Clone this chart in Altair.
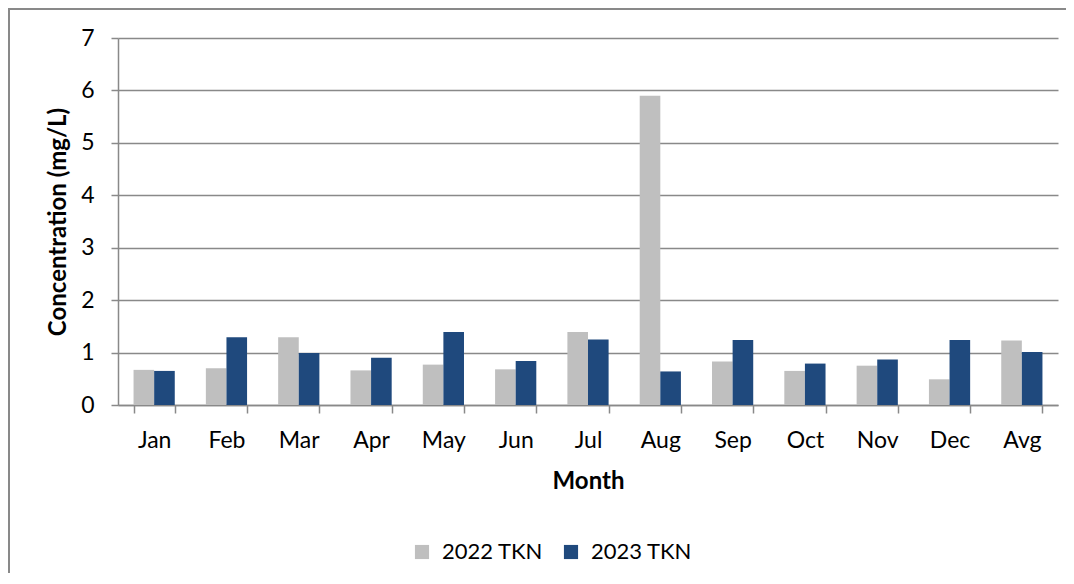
import altair as alt
import pandas as pd

months = ["Jan", "Feb", "Mar", "Apr", "May", "Jun", "Jul", "Aug", "Sep", "Oct", "Nov", "Dec", "Avg"]
series = ["2022 TKN", "2023 TKN"]
tkn_2022 = [0.67, 0.70, 1.29, 0.66, 0.77, 0.68, 1.39, 5.90, 0.83, 0.65, 0.75, 0.49, 1.23]
tkn_2023 = [0.65, 1.29, 0.99, 0.90, 1.39, 0.84, 1.25, 0.64, 1.24, 0.79, 0.87, 1.24, 1.01]
y_ticks = [0, 1, 2, 3, 4, 5, 6, 7]
colors = ["#BFBFBF", "#1F497D"]

rows = []
for m, a, b in zip(months, tkn_2022, tkn_2023):
    rows.append({"Month": m, "Series": series[0], "Value": a})
    rows.append({"Month": m, "Series": series[1], "Value": b})
df = pd.DataFrame(rows)

FONT = "Lato"
GRAY = "#898989"

bars = alt.Chart(df).mark_bar().encode(
    x=alt.X(
        "Month:N",
        sort=months,
        scale=alt.Scale(paddingInner=0.43, paddingOuter=0.215),
        axis=alt.Axis(
            title="Month",
            labelAngle=0,
            tickBand="extent",
            tickSize=8,
            tickColor=GRAY,
            tickWidth=1.5,
            domainColor=GRAY,
            domainWidth=1.5,
            labelPadding=16,
            labelFontSize=23,
            labelFont=FONT,
            labelColor="#000000",
            titleFont=FONT,
            titleFontSize=24,
            titleFontWeight="bold",
            titleColor="#000000",
            titleBaseline="middle",
            titleY=76,
            grid=False,
        ),
    ),
    xOffset=alt.XOffset("Series:N", sort=series, scale=alt.Scale(paddingInner=0, paddingOuter=0)),
    y=alt.Y(
        "Value:Q",
        scale=alt.Scale(domain=[0, 7], nice=False),
        axis=alt.Axis(
            title="Concentration (mg/L)",
            values=y_ticks,
            format="d",
            tickSize=7,
            tickColor=GRAY,
            tickWidth=1.5,
            domainColor=GRAY,
            domainWidth=1.5,
            gridColor=GRAY,
            gridWidth=1.5,
            labelPadding=17,
            labelFontSize=23,
            labelFont=FONT,
            labelColor="#000000",
            titleFont=FONT,
            titleFontSize=24,
            titleFontWeight="bold",
            titleColor="#000000",
            titleBaseline="middle",
            titleX=-60,
            titleY=183.5,
        ),
    ),
    color=alt.Color(
        "Series:N",
        scale=alt.Scale(domain=series, range=colors),
        legend=alt.Legend(
            title=None,
            orient="none",
            direction="horizontal",
            legendX=293,
            legendY=503,
            symbolType="square",
            symbolSize=200,
            symbolStrokeWidth=0,
            labelFont=FONT,
            labelFontSize=22,
            labelColor="#000000",
            labelOffset=9,
            columnPadding=16,
        ),
    ),
)

border_df = pd.DataFrame({"k": [0]})
top_border = alt.Chart(border_df).mark_rule(color=GRAY, strokeWidth=2).encode(
    x=alt.value(-110), x2=alt.value(2000), y=alt.value(-29)
)
left_border = alt.Chart(border_df).mark_rule(color=GRAY, strokeWidth=2).encode(
    x=alt.value(-109), y=alt.value(-30), y2=alt.value(2000)
)

chart = (
    alt.layer(bars, top_border, left_border)
    .properties(
        width=940,
        height=367,
        autosize=alt.AutoSizeParams(type="none"),
        padding={"left": 110, "top": 30, "right": 8, "bottom": 168},
    )
    .configure_view(stroke=None)
)

chart.save("out.html", embed_options={"renderer": "svg", "actions": False})
